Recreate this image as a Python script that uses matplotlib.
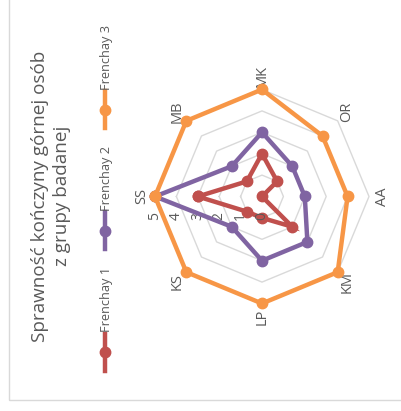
import numpy as np
import matplotlib.pyplot as plt
from matplotlib.lines import Line2D
from matplotlib.patches import Rectangle

plt.rcParams['font.family'] = ['Open Sans', 'DejaVu Sans']

categories = ["SS", "MB", "MK", "OR", "AA", "KM", "LP", "KS"]
frenchay_1 = [3, 1, 2, 1, 0, 2, 1, 1]
frenchay_2 = [5, 2, 3, 2, 2, 3, 3, 2]
frenchay_3 = [5, 5, 5, 4, 4, 5, 5, 5]
series = [("Frenchay 1", frenchay_1, "#C0504D"),
          ("Frenchay 2", frenchay_2, "#8064A2"),
          ("Frenchay 3", frenchay_3, "#F79646")]
ticks = [0, 1, 2, 3, 4, 5]
title = "Sprawność kończyny górnej osób\nz grupy badanej"

TXT = "#595959"
GRID = "#D9D9D9"

W, H = 401, 411
fig = plt.figure(figsize=(W / 100, H / 100), dpi=100)

# outer chart frame
fig.patches.append(Rectangle((8.5 / W, (H - 400) / H), 1.0, 1.0, transform=fig.transFigure,
                             fill=False, edgecolor=GRID, linewidth=1.0))

# radar axes, centre at (262, 196.5) px, radius 107 px
cx, cy, rad = 262, 196.5, 107
ax = fig.add_axes([(cx - rad) / W, (H - cy - rad) / H, 2 * rad / W, 2 * rad / H], polar=True)
ax.set_theta_zero_location("W")
ax.set_theta_direction(-1)
ax.set_ylim(0, 5)
ax.set_axis_off()

n = len(categories)
angles = np.linspace(0, 2 * np.pi, n, endpoint=False)
closed = np.concatenate([angles, angles[:1]])

for t in ticks[1:]:
    ax.plot(closed, [t] * (n + 1), color=GRID, linewidth=1.0, zorder=1, clip_on=False)

for z, (name, vals, col) in enumerate(series):
    v = list(vals) + [vals[0]]
    ax.plot(closed, v, color=col, linewidth=3.2, marker="o", markersize=7.5,
            zorder=3 + z, clip_on=False, solid_joinstyle="miter")

for a, lab in zip(angles, categories):
    ax.text(a, 5.62, lab, rotation=90, ha="center", va="center",
            fontsize=10.5, color=TXT)

for t in ticks:
    ax.annotate(str(t), xy=(0, t), xytext=(0, -20), textcoords="offset pixels",
                rotation=90, ha="center", va="center", fontsize=10, color=TXT,
                annotation_clip=False)

# title, rotated
fig.text(51 / W, (H - 196) / H, title, rotation=90, ha="center", va="center",
         fontsize=13.6, color=TXT, linespacing=1.35, multialignment="center")

# legend, rotated
marker_y = [352, 231, 110]
lx = 105
for (name, vals, col), my in zip(series, marker_y):
    fig.lines.append(Line2D([lx / W, lx / W], [(H - my - 18.5) / H, (H - my + 18.5) / H],
                            transform=fig.transFigure, color=col, linewidth=3.2,
                            marker=None))
    fig.lines.append(Line2D([lx / W], [(H - my) / H], transform=fig.transFigure,
                            color=col, marker="o", markersize=7.5, linestyle="none"))
    fig.text((lx + 1) / W, (H - my + 20) / H, name, rotation=90, ha="center", va="bottom",
             fontsize=9.2, color=TXT)

fig.savefig("out.png", dpi=100)
